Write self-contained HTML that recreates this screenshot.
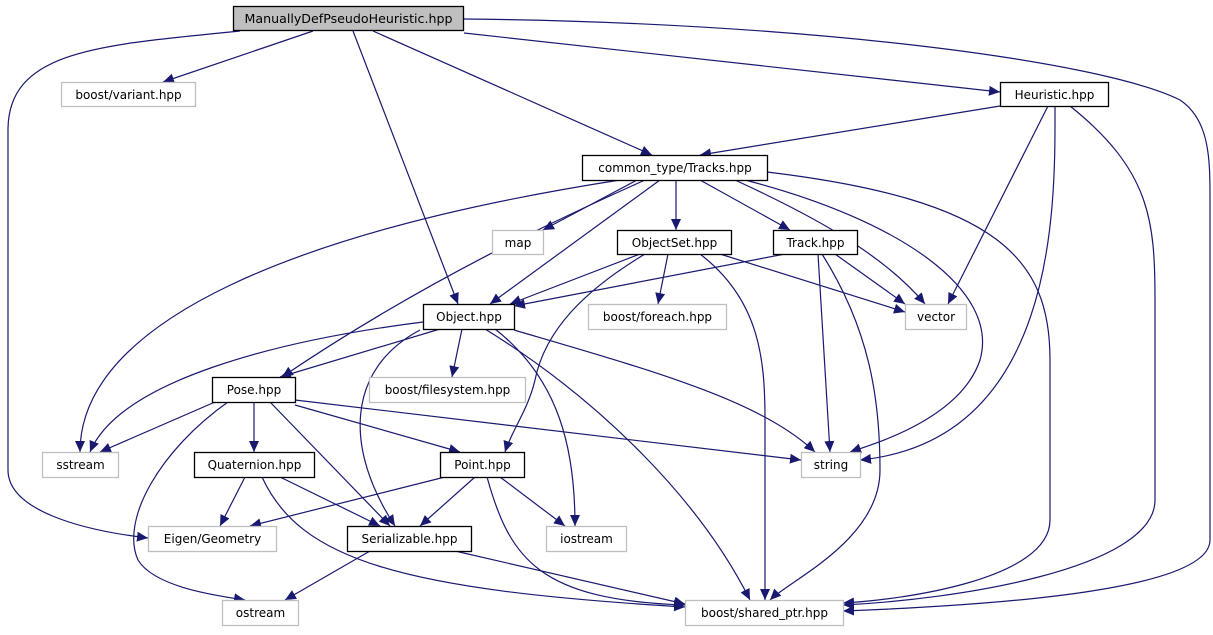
<!DOCTYPE html>
<html><head><meta charset="utf-8"><style>
html,body{margin:0;padding:0;background:#fff}
svg{display:block}
text{font-family:"DejaVu Sans","Liberation Sans",sans-serif;font-size:12px;fill:#000}
.e{fill:none;stroke:#191970;stroke-width:1.2}
.n{fill:#fff;stroke:#000;stroke-width:1.3}
.g{fill:#fff;stroke:#bfbfbf;stroke-width:1.3}
</style></head><body>
<svg width="1213" height="635" viewBox="0 0 1213 635" xmlns="http://www.w3.org/2000/svg">
<defs><marker id="a" markerUnits="userSpaceOnUse" markerWidth="12" markerHeight="10" refX="11" refY="5" orient="auto"><path d="M0,0 L11,5 L0,10 z" fill="#191970"/></marker></defs>
<g class="e" marker-end="url(#a)">
<path d="M240,31 C100,45 8,50 8,130 L8,470 C8,510 80,530 148,538"/>
<path d="M313,31 L163,82"/>
<path d="M353,31 L458,304"/>
<path d="M373,31 L652,155"/>
<path d="M464,33 L1000,92"/>
<path d="M464,19 C800,22 1100,60 1180,100 C1210,120 1210,160 1210,200 L1210,540 C1210,590 1000,605 843,611"/>
<path d="M1000,106 L700,155"/>
<path d="M1048,106 L948,304"/>
<path d="M1055,106 C1055,200 1060,440 860,460"/>
<path d="M1070,106 C1150,170 1155,220 1155,300 L1155,500 C1155,570 950,600 843,605"/>
<path d="M637,180 L543,230"/>
<path d="M676,180 L676,230"/>
<path d="M700,180 L790,230"/>
<path d="M660,180 L490,304"/>
<path d="M645,180 C590,205 440,270 282,377"/>
<path d="M620,180 C300,230 80,320 80,452"/>
<path d="M735,180 C800,210 880,250 925,304"/>
<path d="M745,180 C900,220 1000,290 980,360 C960,420 870,445 850,452"/>
<path d="M767,172 C1000,200 1050,260 1050,360 L1050,520 C1050,580 900,600 843,603"/>
<path d="M640,254 L510,304"/>
<path d="M668,254 L658,304"/>
<path d="M720,254 L905,312"/>
<path d="M645,254 C585,290 545,330 535,380 C528,410 512,430 505,452"/>
<path d="M700,254 C760,300 765,360 765,420 L765,600"/>
<path d="M785,254 L514,306"/>
<path d="M835,254 L905,304"/>
<path d="M818,254 L830,452"/>
<path d="M822,254 C870,330 880,400 880,470 C880,540 790,580 770,600"/>
<path d="M440,329 L280,377"/>
<path d="M462,329 L452,377"/>
<path d="M423,322 C280,340 120,380 90,452"/>
<path d="M420,330 C345,370 345,450 395,526"/>
<path d="M495,329 C560,380 575,450 575,526"/>
<path d="M485,329 C600,400 700,500 750,600"/>
<path d="M514,330 C650,370 760,400 815,452"/>
<path d="M215,402 L100,452"/>
<path d="M254,402 L254,452"/>
<path d="M295,405 L460,452"/>
<path d="M295,400 L801,460"/>
<path d="M270,402 L390,526"/>
<path d="M228,402 C160,450 120,520 138,560 C155,588 220,596 245,600"/>
<path d="M245,477 L220,526"/>
<path d="M280,477 L380,526"/>
<path d="M262,477 C300,560 400,590 685,607"/>
<path d="M445,477 L250,526"/>
<path d="M475,477 L420,526"/>
<path d="M500,477 L565,526"/>
<path d="M487,477 C510,560 540,600 685,605"/>
<path d="M370,551 L285,600"/>
<path d="M455,551 L685,604"/>
</g>
<rect x="233.5" y="6.5" width="230" height="24" fill="#bfbfbf" stroke="#000" stroke-width="1.3"/>
<text x="348.5" y="23" text-anchor="middle" textLength="208" lengthAdjust="spacingAndGlyphs">ManuallyDefPseudoHeuristic.hpp</text>
<g>
<rect class="g" x="61.5" y="82.5" width="134" height="24"/><text x="128.5" y="99" text-anchor="middle">boost/variant.hpp</text>
<rect class="n" x="1000.5" y="82.5" width="108" height="24"/><text x="1054.5" y="99" text-anchor="middle">Heuristic.hpp</text>
<rect class="n" x="582.5" y="155.5" width="185" height="25"/><text x="675" y="172" text-anchor="middle">common_type/Tracks.hpp</text>
<rect class="g" x="492.5" y="230.5" width="51" height="24"/><text x="518" y="247" text-anchor="middle">map</text>
<rect class="n" x="617.5" y="230.5" width="114" height="24"/><text x="674.5" y="247" text-anchor="middle">ObjectSet.hpp</text>
<rect class="n" x="773.5" y="230.5" width="84" height="24"/><text x="815.5" y="247" text-anchor="middle">Track.hpp</text>
<rect class="n" x="423.5" y="304.5" width="91" height="25"/><text x="469" y="321" text-anchor="middle">Object.hpp</text>
<rect class="g" x="588.5" y="304.5" width="138" height="25"/><text x="657.5" y="321" text-anchor="middle">boost/foreach.hpp</text>
<rect class="g" x="905.5" y="304.5" width="61" height="25"/><text x="936" y="321" text-anchor="middle">vector</text>
<rect class="g" x="369.5" y="377.5" width="156" height="25"/><text x="447.5" y="394" text-anchor="middle">boost/filesystem.hpp</text>
<rect class="n" x="212.5" y="377.5" width="83" height="25"/><text x="254" y="394" text-anchor="middle">Pose.hpp</text>
<rect class="g" x="42.5" y="452.5" width="76" height="25"/><text x="80.5" y="469" text-anchor="middle">sstream</text>
<rect class="n" x="194.5" y="452.5" width="120" height="25"/><text x="254.5" y="469" text-anchor="middle">Quaternion.hpp</text>
<rect class="n" x="440.5" y="452.5" width="84" height="25"/><text x="482.5" y="469" text-anchor="middle">Point.hpp</text>
<rect class="g" x="801.5" y="452.5" width="59" height="25"/><text x="831" y="469" text-anchor="middle">string</text>
<rect class="g" x="148.5" y="526.5" width="128" height="25"/><text x="212.5" y="543" text-anchor="middle">Eigen/Geometry</text>
<rect class="n" x="347.5" y="526.5" width="124" height="25"/><text x="409.5" y="543" text-anchor="middle">Serializable.hpp</text>
<rect class="g" x="546.5" y="526.5" width="80" height="25"/><text x="586.5" y="543" text-anchor="middle">iostream</text>
<rect class="g" x="222.5" y="600.5" width="76" height="25"/><text x="260.5" y="617" text-anchor="middle">ostream</text>
<rect class="g" x="685.5" y="600.5" width="158" height="25"/><text x="764.5" y="617" text-anchor="middle">boost/shared_ptr.hpp</text>
</g>
</svg>
</body></html>
